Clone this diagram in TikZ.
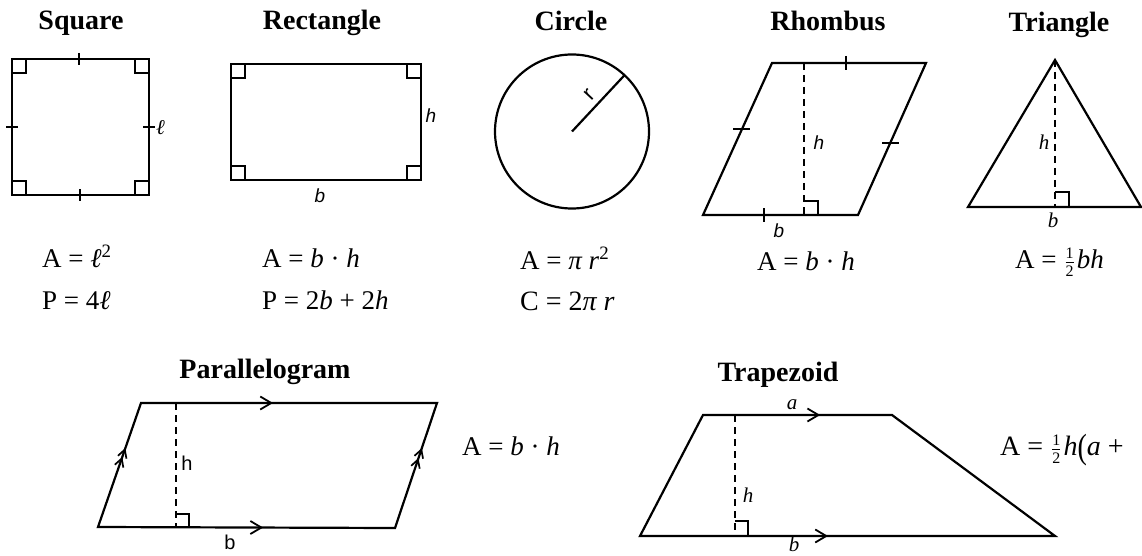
\documentclass[tikz,border=0pt]{standalone}
\usepackage{fontspec}
\setmainfont{Liberation Serif}
\newfontfamily\sansf{Liberation Sans}
\usetikzlibrary{decorations.markings,arrows.meta}
\newcommand\halfsym{\kern1pt${\mbox{\fontsize{16}{16}\selectfont 1}\over\mbox{\fontsize{16}{16}\selectfont 2}}$\kern2pt}
\begin{document}
\begin{tikzpicture}[x=1pt,y=-1pt,
  fig/.style={line width=2.2pt, line join=miter},
  rtmark/.style={line width=1.7pt},
  tk/.style={line width=1.7pt},
  hgt/.style={line width=2pt, dash pattern=on 7pt off 5pt},
  ttl/.style={font=\fontsize{28}{30}\selectfont\bfseries, anchor=base, inner sep=0pt},
  frm/.style={font=\fontsize{27}{30}\selectfont, anchor=base west, inner sep=0pt},
  slbl/.style={font=\fontsize{19}{20}\selectfont\sansf\itshape, inner sep=0pt},
  ulbl/.style={font=\fontsize{20}{20}\selectfont\sansf, inner sep=0pt},
  ilbl/.style={font=\fontsize{21}{20}\selectfont\itshape, inner sep=0pt},
  arr/.style={postaction={decorate}, decoration={markings, mark=at position #1 with {\arrow{Straight Barb[length=11pt,width=13pt,line width=1.8pt]}}}},
  darr/.style 2 args={postaction={decorate}, decoration={markings,
     mark=at position #1 with {\arrow{Straight Barb[length=8pt,width=9pt,line width=1.7pt]}},
     mark=at position #2 with {\arrow{Straight Barb[length=8pt,width=9pt,line width=1.7pt]}}}}
]
\useasboundingbox (0,0) rectangle (1142,556);

% ---------- Square ----------
\node[ttl] (tsq) at (81,30) {Square};
\coordinate (sqA) at (12,59);
\coordinate (sqB) at (149,59);
\coordinate (sqC) at (149,195);
\coordinate (sqD) at (12,195);
\draw[fig] (sqA) -- (sqB) -- (sqC) -- (sqD) -- cycle;
\draw[rtmark] (12,73) -- (26,73) -- (26,59);
\draw[rtmark] (149,73) -- (135,73) -- (135,59);
\draw[rtmark] (12,181) -- (26,181) -- (26,195);
\draw[rtmark] (149,181) -- (135,181) -- (135,195);
\draw[tk] (79,53) -- (79,65);
\draw[tk] (80,189) -- (80,201);
\draw[tk] (6,127) -- (18,127);
\draw[tk] (143,127) -- (155,127);
\node[ilbl, anchor=west] (lsq) at (156,128) {ℓ};
\node[frm] (fsq1) at (42,267) {A = \textit{ℓ}\textsuperscript{2}};
\node[frm] (fsq2) at (42,309) {P = 4\textit{ℓ}};

% ---------- Rectangle ----------
\node[ttl] (trc) at (322,30) {Rectangle};
\draw[fig] (231,64) rectangle (421,180);
\draw[rtmark] (231,78) -- (245,78) -- (245,64);
\draw[rtmark] (421,78) -- (407,78) -- (407,64);
\draw[rtmark] (231,166) -- (245,166) -- (245,180);
\draw[rtmark] (421,166) -- (407,166) -- (407,180);
\node[slbl] (hrc) at (431,116) {h};
\node[slbl] (brc) at (320,196) {b};
\node[frm] (frc1) at (262,267) {A = \textit{b} · \textit{h}};
\node[frm] (frc2) at (262,309) {P = 2\textit{b} + 2\textit{h}};

% ---------- Circle ----------
\node[ttl] (tci) at (571,31) {Circle};
\coordinate (cc) at (572,131.5);
\coordinate (cr) at (624.5,75.2);
\draw[fig] (cc) circle[radius=77];
\draw[fig] (cc) -- (cr);
\node[font=\fontsize{22}{22}\selectfont\sansf, inner sep=0pt, rotate=47] (rci) at (590,95) {r};
\node[frm] (fci1) at (520,269) {A = \textit{π r}\textsuperscript{2}};
\node[frm, font=\fontsize{28}{30}\selectfont] (fci2) at (520,310) {C = 2\textit{π r}};

% ---------- Rhombus ----------
\node[ttl] (trh) at (828,31) {Rhombus};
\coordinate (rhA) at (772,63);
\coordinate (rhB) at (926,63);
\coordinate (rhC) at (858,215);
\coordinate (rhD) at (703,215);
\draw[fig] (rhA) -- (rhB) -- (rhC) -- (rhD) -- cycle;
\draw[hgt] (804,63) -- (804,215);
\draw[rtmark] (804,201) -- (818,201) -- (818,215);
\draw[tk] (846,56) -- (846,70);
\draw[tk] (764,208) -- (764,222);
\draw[tk] (733,129) -- (750,129);
\draw[tk] (882,143) -- (899,143);
\node[slbl] (hrh) at (819,143) {h};
\node[slbl] (brh) at (779,231) {b};
\node[frm] (frh) at (757,270) {A = \textit{b} · \textit{h}};

% ---------- Triangle ----------
\node[ttl] (ttr) at (1059,32) {Triangle};
\coordinate (trA) at (1055,60);
\coordinate (trB) at (1141,207);
\coordinate (trC) at (968,207);
\draw[fig] (trA) -- (trB) -- (trC) -- cycle;
\draw[hgt] (trA) -- (1055,207);
\draw[rtmark] (1055,192) -- (1069,192) -- (1069,207);
\node[ilbl] (htr) at (1044,142) {h};
\node[ilbl] (btr) at (1053,220) {b};
\node[frm] (ftr) at (1015,268) {A = \halfsym\textit{bh}};

% ---------- Parallelogram ----------
\node[ttl] (tpa) at (265,378) {Parallelogram};
\coordinate (paA) at (141,403);
\coordinate (paB) at (437,403);
\coordinate (paC) at (395,528);
\coordinate (paD) at (98,527);
\draw[fig] (paA) -- (paB) -- (paC) -- (paD) -- cycle;
\path[fig, arr=0.446] (paA) -- (paB);
\path[fig, arr=0.556] (paD) -- (paC);
\path[fig, darr={0.565}{0.637}] (paD) -- (paA);
\path[fig, darr={0.56}{0.64}] (paC) -- (paB);
\draw[hgt] (176,403) -- (176,528);
\draw[rtmark] (176,514) -- (189,514) -- (189,528);
\node[ulbl] (hpa) at (187,463) {h};
\node[ulbl] (bpa) at (230,542) {b};
\node[frm] (fpa) at (462,455) {A = \textit{b} · \textit{h}};

% ---------- Trapezoid ----------
\node[ttl] (ttz) at (778,381) {Trapezoid};
\coordinate (tzA) at (703,415);
\coordinate (tzB) at (892,415);
\coordinate (tzC) at (1055,536);
\coordinate (tzD) at (640,536);
\draw[fig] (tzA) -- (tzB) -- (tzC) -- (tzD) -- cycle;
\path[fig, arr=0.62] (tzA) -- (tzB);
\path[fig, arr=0.453] (tzD) -- (tzC);
\draw[hgt] (735,415) -- (735,536);
\draw[rtmark] (735,521) -- (748,521) -- (748,536);
\node[ilbl] (atz) at (792,405) {a};
\node[ilbl] (htz) at (748,495) {h};
\node[ilbl, anchor=base] (btz) at (794,551) {b};
\node[frm, font=\fontsize{28}{30}\selectfont] (ftz) at (1000,455) {A = \halfsym\textit{h}\raisebox{-0.12em}{\scalebox{1}[1.25]{(}}\textit{a} +};
\end{tikzpicture}
\end{document}
